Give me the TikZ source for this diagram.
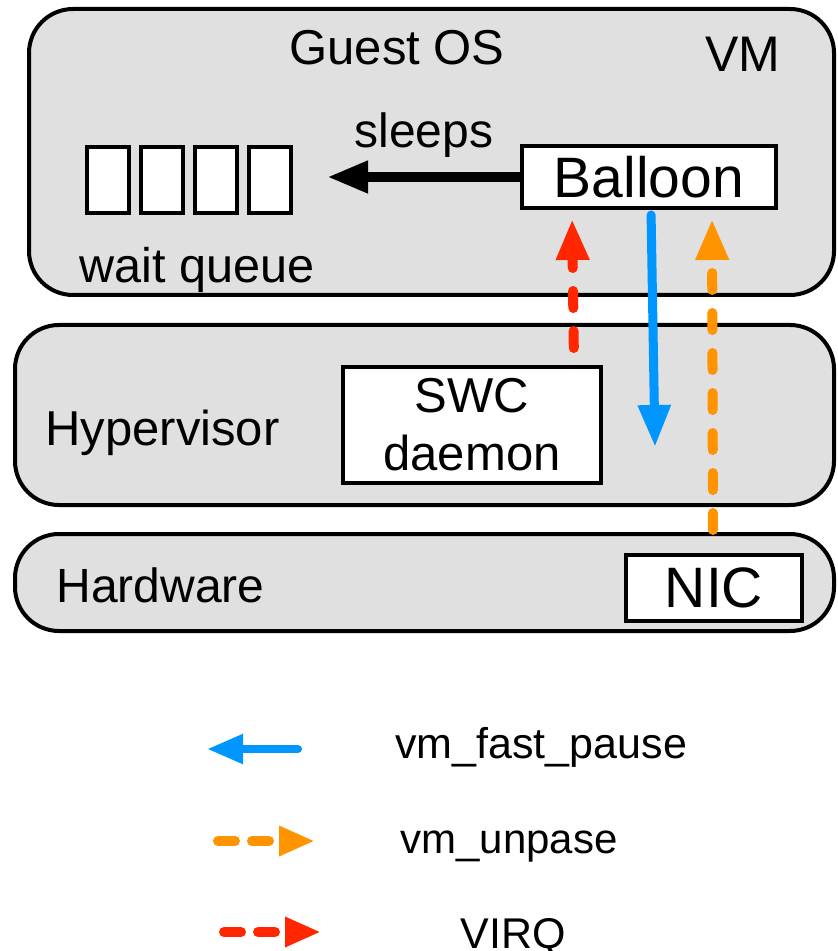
\documentclass[tikz,border=0pt]{standalone}
\usepackage{fontspec}
\setmainfont{Liberation Sans}
\usetikzlibrary{arrows.meta,calc}

\definecolor{layerfill}{RGB}{224,224,224}
\definecolor{pauseblue}{RGB}{0,150,255}
\definecolor{unpauseorange}{RGB}{255,147,0}
\definecolor{virqred}{RGB}{255,38,0}

\newcommand{\fsz}[1]{\fontsize{#1}{1.2\dimexpr#1\relax}\selectfont}

\tikzset{
  layer/.style={draw=black, line width=2pt, fill=layerfill, rounded corners=22pt, inner sep=0pt},
  whitebox/.style={draw=black, line width=2pt, fill=white, inner sep=0pt},
  lbl/.style={inner sep=0pt, anchor=base west},
  flow/.style={line width=5pt, line cap=round},
  bigtip/.style={-{Triangle[length=20.5pt,width=15.5pt]}},
  smalltip/.style={-{Triangle[length=18pt,width=14pt]}},
  flowdash/.style={dash pattern=on 8.5pt off 11.5pt},
  legdash/.style={dash pattern=on 8.5pt off 8.5pt}
}

\begin{document}
\begin{tikzpicture}[x=0.5pt,y=-0.5pt]
\useasboundingbox (0,0) rectangle (838,951);

% three stacked layers
\node[layer, minimum width=402.5pt, minimum height=143pt] (vm)  at (431.5,152) {};
\node[layer, minimum width=409.5pt, minimum height=90pt]  (hyp) at (424.5,415) {};
\node[layer, minimum width=409.5pt, minimum height=48.5pt] (hw) at (424.5,582.5) {};

% layer titles
\node[lbl, font=\fsz{24.5pt}] (guestos) at (289,65) {Guest OS};
\node[lbl, font=\fsz{25pt}] (vmname) at (705,72) {VM};
\node[lbl, font=\fsz{24.5pt}] (hyptitle) at (45,445) {Hypervisor};
\node[lbl, font=\fsz{24pt}] (hwtitle) at (56,602) {Hardware};

% wait queue slots
\foreach \i/\x in {1/108,2/162,3/216,4/270}
  \node[whitebox, minimum width=21pt, minimum height=33pt] (q\i) at (\x,180) {};
\node[lbl, font=\fsz{24.3pt}] (waitq) at (79,283) {wait queue};

% components
\node[whitebox, minimum width=127pt, minimum height=31pt, font=\fsz{28.5pt}] (balloon) at (649,177) {Balloon};
\node[whitebox, minimum width=129pt, minimum height=58pt, align=center,
      font=\fontsize{24.5pt}{29pt}\selectfont] (swc) at (472,425) {SWC\\daemon};
\node[whitebox, minimum width=88pt, minimum height=33pt, font=\fsz{28.5pt}] (nic) at (714,588) {NIC};

% balloon puts tasks to sleep
\coordinate (sleeptip) at ($(q4.east |- balloon.west)+(17pt,0)$);
\draw[line width=5pt, -{Triangle[length=20.5pt,width=15pt]}] (balloon.west) -- (sleeptip);
\node[inner sep=0pt, anchor=base, font=\fsz{24pt}] (sleeps) at (424,148) {sleeps};

% VIRQ from the daemon to the balloon
\draw[flow, virqred, flowdash, bigtip, shorten <=8.5pt, shorten >=4.5pt]
  ([xshift=51pt]swc.north) -- ([xshift=-38.5pt]balloon.south);

% fast pause from the balloon down to the hypervisor
\coordinate (pausetip) at (655,447);
\draw[flow, line width=4.5pt, pauseblue, -{Triangle[length=21pt,width=15.5pt]}, shorten <=2.5pt]
  ([xshift=1pt]balloon.south) -- (pausetip);

% unpause from the NIC up to the balloon
\draw[flow, unpauseorange, flowdash, bigtip, shorten <=1pt, shorten >=4.5pt]
  ([xshift=144.25pt]hw.north) -- ([xshift=31.5pt]balloon.south);

% legend
\coordinate (lgbA) at (298,749); \coordinate (lgbB) at (207,749);
\coordinate (lgoA) at (218,841); \coordinate (lgoB) at (315,841);
\coordinate (lgrA) at (224,932); \coordinate (lgrB) at (321,932);
\draw[flow, line width=4pt, pauseblue, smalltip] (lgbA) -- (lgbB);
\draw[flow, unpauseorange, legdash, smalltip] (lgoA) -- (lgoB);
\draw[flow, virqred, legdash, smalltip] (lgrA) -- (lgrB);
\node[lbl, font=\fsz{21.5pt}] (lgbtext) at (395,758) {vm\_fast\_pause};
\node[lbl, font=\fsz{21pt}] (lgotext) at (400,853) {vm\_unpase};
\node[lbl, font=\fsz{21.5pt}] (lgrtext) at (460,948) {VIRQ};
\end{tikzpicture}
\end{document}
